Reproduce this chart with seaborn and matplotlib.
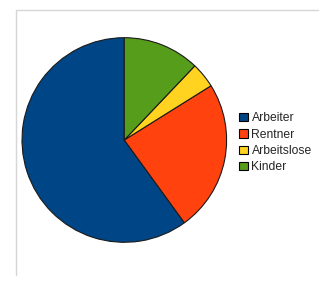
import matplotlib
matplotlib.use("Agg")
import matplotlib.pyplot as plt
import seaborn as sns
from matplotlib.lines import Line2D
from matplotlib.patches import Patch

categories = ["Arbeiter", "Rentner", "Arbeitslose", "Kinder"]
values = [60.0, 23.9, 4.0, 12.1]
colors = ["#004586", "#ff420e", "#ffd320", "#579d1c"]

sns.set_style("white")
plt.rcParams['font.family'] = ['Liberation Sans', 'DejaVu Sans']

W, H = 325, 285
fig = plt.figure(figsize=(W / 100, H / 100), dpi=100)
fig.patch.set_facecolor("white")

cx, cy, r = 124.3, 140.0, 102.3
ax = fig.add_axes([(cx - r) / W, (H - cy - r) / H, 2 * r / W, 2 * r / H])
wedges, _ = ax.pie(values, colors=colors, startangle=90, counterclock=True,
                   radius=1.0,
                   wedgeprops=dict(edgecolor="#1a1a1a", linewidth=0.8))
ax.set_xlim(-1, 1)
ax.set_ylim(-1, 1)
ax.set_aspect("equal")
ax.axis("off")

# light frame lines (left & top)
fig.add_artist(Line2D([16.3 / W, 16.3 / W], [1 - 10 / H, 1 - 274.5 / H],
                      transform=fig.transFigure, color="#d6d6d6", linewidth=1.0))
fig.add_artist(Line2D([16.3 / W, 317.5 / W], [1 - 10 / H, 1 - 10 / H],
                      transform=fig.transFigure, color="#d6d6d6", linewidth=1.0))

handles = [Patch(facecolor=c, edgecolor="black", linewidth=0.8) for c in colors]
leg = fig.legend(handles, categories, loc="upper left",
                 bbox_to_anchor=(237 / W, 1 - 110 / H),
                 frameon=False, fontsize=8.7, handlelength=0.7, handleheight=0.7,
                 handletextpad=0.3, labelspacing=0.36, borderpad=0.2,
                 borderaxespad=0)

fig.savefig("out.png", dpi=100, facecolor="white")
